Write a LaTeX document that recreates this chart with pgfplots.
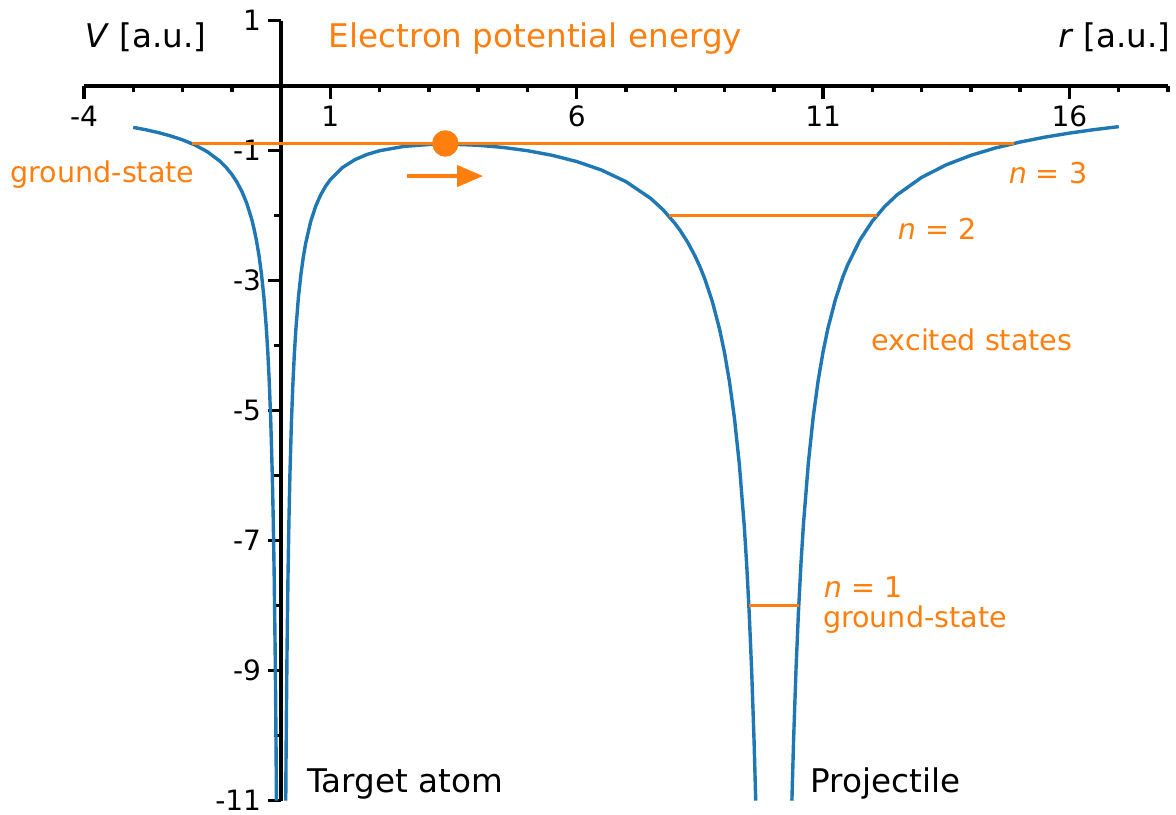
\documentclass[border=0pt]{standalone}
\usepackage{fontspec}
\setmainfont{DejaVu Sans}
\usepackage{pgfplots}
\pgfplotsset{compat=1.18}
\usetikzlibrary{arrows.meta,calc}

\definecolor{mplblue}{HTML}{1F77B4}
\definecolor{mplorange}{HTML}{FF7F0E}

\newcommand{\lbl}{\fontsize{16.3}{19}\selectfont}
\newcommand{\note}{\fontsize{14.3}{17}\selectfont}

\begin{document}
\begin{tikzpicture}
\begin{axis}[
  scale only axis,
  width=542pt, height=390pt,
  xmin=-4, xmax=18, ymin=-11, ymax=1,
  axis lines=middle,
  clip=false,
  axis line style={line width=2pt},
  every inner x axis line/.append style={-},
  every inner y axis line/.append style={-},
  xtick={-4,1,6,11,16},
  xticklabels={-4,1,6,11,16},
  minor xtick={-3,-2,-1,0,2,3,4,5,7,8,9,10,12,13,14,15,17,18},
  ytick={1,-1,-3,-5,-7,-9,-11},
  yticklabels={1,-1,-3,-5,-7,-9,-11},
  minor ytick={0,-2,-4,-6,-8,-10},
  tick align=outside,
  major tick length=6.5pt,
  minor tick length=3.3pt,
  every tick/.style={black, line width=1.75pt},
  ticklabel style={font=\fontsize{14}{16}\selectfont},
  yticklabel style={inner ysep=0pt},
]
% potential of target (charge 1, at r = 0) and projectile (charge 4, at r = 10)
\addplot[mplblue, line width=1.7pt] coordinates {
 (-3.0,-0.6410) (-2.75,-0.6773) (-2.5,-0.7200) (-2.25,-0.7710) (-2.0,-0.8333)
 (-1.75,-0.9118) (-1.5,-1.0145) (-1.25,-1.1556) (-1.125,-1.2485) (-1.0,-1.3636)
 (-0.9,-1.4781) (-0.8,-1.6204) (-0.7,-1.8024) (-0.6,-2.0440) (-0.55,-2.1973)
 (-0.5,-2.3810) (-0.45,-2.6050) (-0.4,-2.8846) (-0.35,-3.2436) (-0.3,-3.7217)
 (-0.27,-4.0932) (-0.24,-4.5573) (-0.21,-5.1537) (-0.18,-5.9486) (-0.16,-6.6437)
 (-0.14,-7.5374) (-0.12,-8.7286) (-0.11,-9.4866) (-0.10,-10.396) (-0.0943,-11.0)
};
\addplot[mplblue, line width=1.7pt] coordinates {
 (0.0944,-11.0) (0.10,-10.4040) (0.11,-9.4953) (0.12,-8.7382) (0.14,-7.5486)
 (0.16,-6.6565) (0.18,-5.9629) (0.21,-5.1705) (0.24,-4.5765) (0.27,-4.1148)
 (0.30,-3.7457) (0.35,-3.2716) (0.40,-2.9167) (0.45,-2.6410) (0.50,-2.4211)
 (0.60,-2.0922) (0.70,-1.8587) (0.80,-1.6848) (0.90,-1.5507) (1.0,-1.4444)
 (1.25,-1.2571) (1.5,-1.1373) (1.75,-1.0563) (2.0,-1.0) (2.5,-0.9333)
 (3.0,-0.9048) (3.3333,-0.9) (3.5,-0.9011) (4.0,-0.9167) (4.5,-0.9495)
 (5.0,-1.0) (5.5,-1.0707) (6.0,-1.1667) (6.5,-1.2967) (7.0,-1.4762)
 (7.5,-1.7333) (7.75,-1.9068) (8.0,-2.125) (8.1,-2.2287) (8.25,-2.4069)
 (8.4,-2.6190) (8.5,-2.7843) (8.6,-2.9734) (8.75,-3.3143) (8.9,-3.7488)
 (9.0,-4.1111) (9.1,-4.5543) (9.2,-5.1087) (9.3,-5.8218) (9.4,-6.7731)
 (9.45,-7.3785) (9.5,-8.1053) (9.55,-8.9936) (9.6,-10.1042) (9.6329,-11.0)
};
\addplot[mplblue, line width=1.7pt] coordinates {
 (10.3669,-11.0) (10.4,-10.0962) (10.45,-8.9846) (10.5,-8.0952) (10.55,-7.3675)
 (10.6,-6.7610) (10.7,-5.8078) (10.8,-5.0926) (10.9,-4.5361) (11.0,-4.0909)
 (11.1,-3.7265) (11.25,-3.2889) (11.4,-2.9448) (11.5,-2.7537) (11.75,-2.3708)
 (12.0,-2.0833) (12.25,-1.8594) (12.5,-1.6800) (13.0,-1.4102) (13.5,-1.2170)
 (14.0,-1.0714) (14.5,-0.9579) (15.0,-0.8667) (15.5,-0.7918) (16.0,-0.7292)
 (16.5,-0.6760) (17.0,-0.6303)
};
% bound-state levels -Z^2/(2n^2), Z = 4
\addplot[mplorange, line width=1.7pt] coordinates {(-1.817,-0.8889) (14.868,-0.8889)};
\addplot[mplorange, line width=1.7pt] coordinates {(7.8642,-2.0) (12.0863,-2.0)};
\addplot[mplorange, line width=1.7pt] coordinates {(9.4933,-8.0) (10.506,-8.0)};
% electron sitting at the top of the barrier
\addplot[only marks, mark=*, mark size=6.4pt, mplorange, mark options={draw=mplorange, fill=mplorange}]
  coordinates {(3.3333,-0.8889)};
\draw[mplorange, line width=2pt, -{Triangle[length=13pt, width=10.5pt]}]
  (axis cs:2.56,-1.39) -- (axis cs:4.10,-1.39);

\coordinate (sw) at (axis cs:-4,-11);

\node[anchor=base west, inner sep=0pt, font=\lbl] at (axis cs:-3.99,0.595) {\textit{V} [a.u.]};
\node[anchor=base east, inner sep=0pt, font=\lbl] at (axis cs:18.06,0.595) {\textit{r} [a.u.]};
\node[anchor=base west, inner sep=0pt, font=\lbl, text=mplorange] at (axis cs:0.962,0.595) {Electron potential energy};
\node[anchor=base west, inner sep=0pt, font=\note, text=mplorange] at (axis cs:-5.50,-1.49) {ground-state};
\node[anchor=base west, inner sep=0pt, font=\note, text=mplorange] at (axis cs:14.76,-1.5) {\textit{n} = 3};
\node[anchor=base west, inner sep=0pt, font=\note, text=mplorange] at (axis cs:12.51,-2.36) {\textit{n} = 2};
\node[anchor=base west, inner sep=0pt, font=\note, text=mplorange] at (axis cs:11.98,-4.08) {excited states};
\node[anchor=base west, inner sep=0pt, font=\note, text=mplorange] at (axis cs:11.01,-7.87) {\textit{n} = 1};
\node[anchor=base west, inner sep=0pt, font=\note, text=mplorange] at (axis cs:10.99,-8.34) {ground-state};
\node[anchor=base west, inner sep=0pt, font=\lbl] at (axis cs:0.52,-10.88) {Target atom};
\node[anchor=base west, inner sep=0pt, font=\lbl] at (axis cs:10.735,-10.88) {Projectile};
\end{axis}
\pgfresetboundingbox
\useasboundingbox ($(sw)+(-42pt,-6.65pt)$) rectangle ++(588pt,407pt);
\end{tikzpicture}
\end{document}
